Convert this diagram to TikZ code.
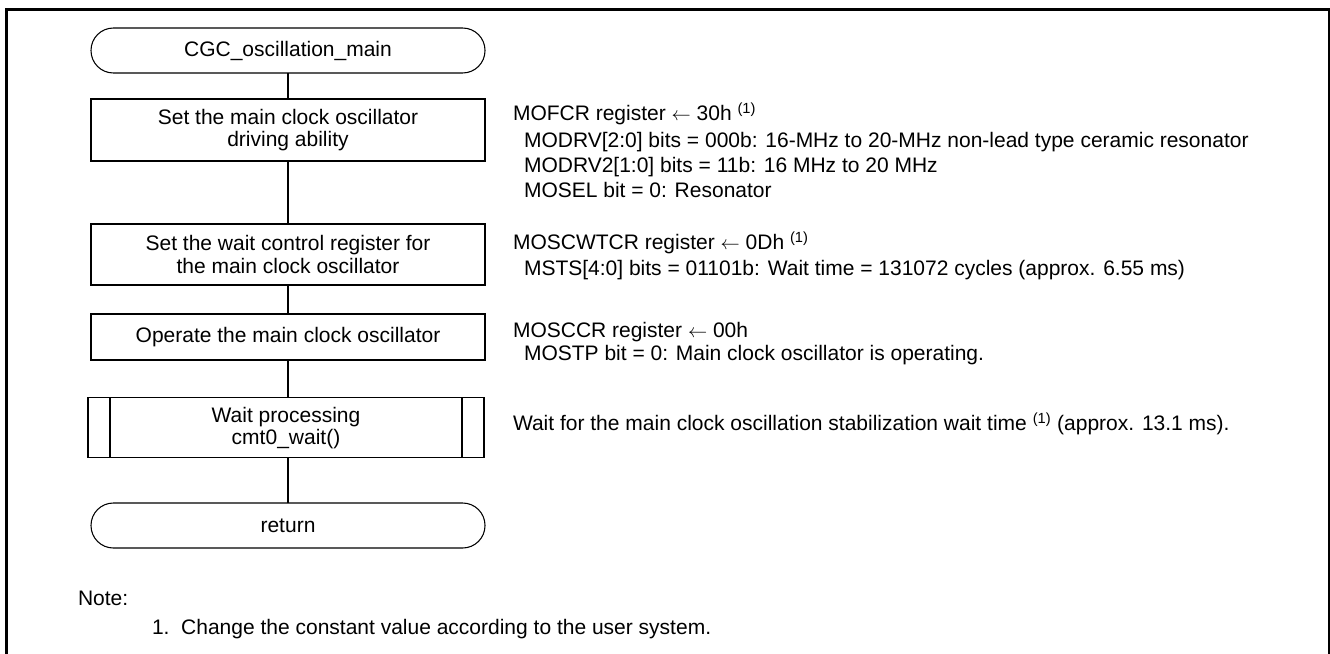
\documentclass[tikz,border=0pt]{standalone}
\usepackage{fontspec}
\setmainfont{Liberation Sans}
\begin{document}
\begin{tikzpicture}[x=0.75pt,y=-0.75pt,
  every node/.style={font=\fontsize{15.75}{16.7}\selectfont, inner sep=0pt, outer sep=0pt},
  conn/.style={line width=0.8pt},
  procbox/.style={draw, line width=0.8pt, rectangle, minimum width=295.5pt, align=center},
  termbox/.style={draw, line width=0.8pt, rectangle, rounded corners=16.8pt, minimum width=295.5pt, minimum height=33.75pt},
  note/.style={anchor=base west, font=\fontsize{15.75}{19}\selectfont},
  frame/.style={line width=2.25pt}
]
\useasboundingbox (0,0) rectangle (1330,653);
\clip (0,0) rectangle (1330,653);
\draw[frame] (6.5,9.7) rectangle (1329,700);

% flowchart nodes
\node[termbox] (start) at (288,50.5) {CGC\_oscillation\_main};
\node[procbox, minimum height=46.5pt] (b1) at (288,130) {Set the main clock oscillator\\driving ability};
\node[procbox, minimum height=45.75pt] (b2) at (288,254.5) {Set the wait control register for\\the main clock oscillator};
\node[procbox, minimum height=34.5pt] (b3) at (288,337) {Operate the main clock oscillator};
\node[procbox, minimum width=297pt, minimum height=45pt] (b4) at (286,427.7) {Wait processing\\cmt0\_wait()};
\draw[line width=0.8pt] ([xshift=16.5pt]b4.north west) -- ([xshift=16.5pt]b4.south west);
\draw[line width=0.8pt] ([xshift=-16.5pt]b4.north east) -- ([xshift=-16.5pt]b4.south east);
\node[termbox] (end) at (288,525.5) {return};

% connectors
\draw[conn] (start) -- (b1);
\draw[conn] (b1) -- (b2);
\draw[conn] (b2) -- (b3);
\draw[conn] (b3.south) -- (b3.south |- b4.north);
\draw[conn] (end.north |- b4.south) -- (end.north);

% annotations
\node[note] (t1) at (513,120) {MOFCR register $\leftarrow$ 30h \textsuperscript{(1)}};
\node[note] (t2) at (524,147) {MODRV[2:0] bits = 000b: 16-MHz to 20-MHz non-lead type ceramic resonator};
\node[note] (t3) at (524,172) {MODRV2[1:0] bits = 11b: 16 MHz to 20 MHz};
\node[note] (t4) at (524,197) {MOSEL bit = 0: Resonator};
\node[note] (t5) at (513,249) {MOSCWTCR register $\leftarrow$ 0Dh \textsuperscript{(1)}};
\node[note] (t6) at (524,275) {MSTS[4:0] bits = 01101b: Wait time = 131072 cycles (approx. 6.55 ms)};
\node[note] (t7) at (513,337) {MOSCCR register $\leftarrow$ 00h};
\node[note] (t8) at (524,360) {MOSTP bit = 0: Main clock oscillator is operating.};
\node[note] (t9) at (513,430) {Wait for the main clock oscillation stabilization wait time \textsuperscript{(1)} (approx. 13.1 ms).};

\node[note] (n1) at (78,605) {Note:};
\node[note] (n2) at (152,634) {1.\ \ Change the constant value according to the user system.};
\end{tikzpicture}
\end{document}
